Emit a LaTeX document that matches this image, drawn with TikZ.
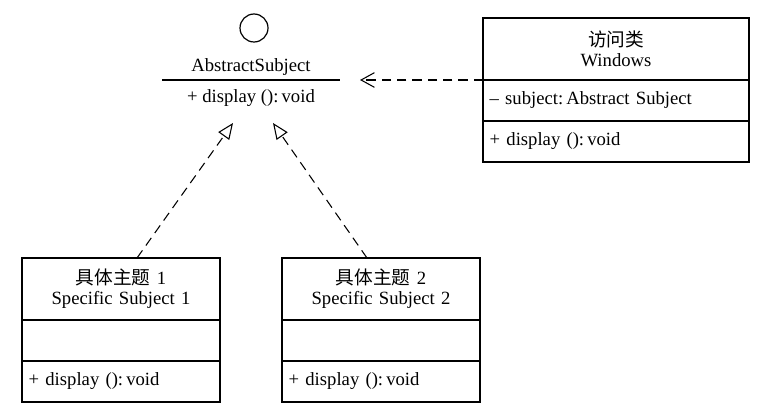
\documentclass[tikz,border=0pt]{standalone}
\usepackage{fontspec}
\setmainfont{Liberation Serif}
\newfontfamily\cjk{Noto Sans CJK SC}
\usetikzlibrary{arrows.meta}
\usetikzlibrary{positioning}
\tikzset{classhead/.style = {draw, line width = 0.9pt, outer sep = 0pt, text width = #1, align = center, inner xsep = 5pt, inner ysep = 0pt, minimum height = 46.5pt}}
\tikzset{member/.style = {draw, line width = 0.9pt, outer sep = 0pt, text width = #1, align = left, inner xsep = 5pt, inner ysep = 0pt, minimum height = 30.75pt}}
\tikzset{dep/.style = {dash pattern = on 7pt off 4.5pt, line width = 0.8pt, -{Straight Barb[length = 10pt, width = 11pt]}}}
\tikzset{realize/.style = {dash pattern = on 7pt off 4.5pt, line width = 0.8pt, -{Triangle[open, length = 12pt, width = 10pt]}}}

\begin{document}
\begin{tikzpicture}[x = 0.75pt, y = -0.75pt, font = \fontsize{14}{15}\selectfont]
      \useasboundingbox (0, 0) rectangle (759, 417);
      % interface
      \node [draw, circle, line width = 0.9pt, inner sep = 0, minimum size = 21pt] (iface) at (254, 28) {};
      \node (absname) at (251, 67) {AbstractSubject};
      \node (absop) at (251, 98) {+ display ():\,void};
      \draw [line width = 0.9pt] (162, 80) -- (340, 80);
      % client
      \node [classhead = 189.5pt, anchor = north west] (wtitle) at (483, 18) {{\cjk 访问类}\\Windows};
      \node [member = 189.5pt, below = 0pt of wtitle] (wattr) {\textendash\ subject:\,Abstract Subject};
      \node [member = 189.5pt, below = 0pt of wattr] (wop) {+ display ():\,void};
      % concrete subjects
      \node [classhead = 138.5pt, anchor = north west] (s1title) at (22, 258) {{\cjk 具体主题} 1\\Specific Subject 1};
      \node [member = 138.5pt, below = 0pt of s1title] (s1attr) {};
      \node [member = 138.5pt, below = 0pt of s1attr] (s1op) {+ display ():\,void};
      \node [classhead = 138.5pt, anchor = north west] (s2title) at (282, 258) {{\cjk 具体主题} 2\\Specific Subject 2};
      \node [member = 138.5pt, below = 0pt of s2title] (s2attr) {};
      \node [member = 138.5pt, below = 0pt of s2attr] (s2op) {+ display ():\,void};
      % relations
      \coordinate (usetip) at (360, 80);
      \coordinate (tip1) at (233, 123);
      \coordinate (tip2) at (273, 123);
      \draw [dep] (wtitle.south west) -- (usetip);
      \draw [realize] ([xshift = 12pt]s1title.north) -- (tip1);
      \draw [realize] ([xshift = -10.5pt]s2title.north) -- (tip2);
    \end{tikzpicture}
\end{document}
